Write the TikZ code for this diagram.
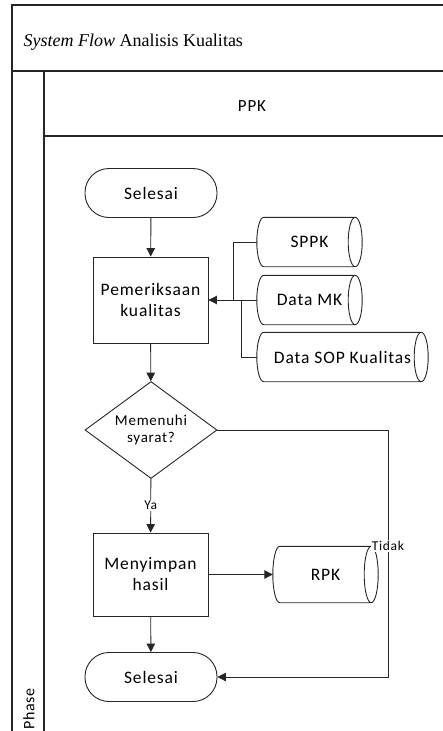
\documentclass[tikz,border=0pt]{standalone}
\usepackage{fontspec}
\setmainfont{Carlito}[LetterSpace=5]
\newfontfamily\titlefont{Liberation Serif}
\usetikzlibrary{shapes.geometric,arrows.meta,calc}

\tikzset{
  flow/.style={draw=black!85, line width=0.9pt},
  arrow/.style={flow, -{Triangle[length=8.5pt,width=8.5pt]}},
  proses/.style={flow, rectangle, minimum width=115pt, align=center, font=\fontsize{17.5}{21}\selectfont},
  terminal/.style={flow, rectangle, rounded corners=24pt, minimum width=132pt, minimum height=49pt, font=\fontsize{17.5}{21}\selectfont},
  keputusan/.style={flow, diamond, aspect=1.36, inner sep=0pt, minimum width=132pt, minimum height=97pt, align=center, font=\fontsize{15}{17.5}\selectfont},
  simpanan/.style={minimum height=49pt, inner sep=0pt, font=\fontsize{17.5}{21}\selectfont},
  lbl/.style={fill=white, inner sep=1pt, font=\fontsize{13.5}{16}\selectfont},
  bingkai/.style={draw=black!85, line width=1.2pt},
}

% bentuk penyimpanan (drum mendatar)
\newcommand{\tabung}[1]{%
  \draw[flow] let \p1=(#1.north), \p2=(#1.south), \n1={0.5*(\y1-\y2)} in
    (#1.north east) -- (#1.north west)
    arc[start angle=90, end angle=270, x radius=7pt, y radius=\n1]
    -- (#1.south east)
    (#1.east) ellipse [x radius=7pt, y radius=\n1];
}

\begin{document}
\begin{tikzpicture}[x=1pt,y=-1pt]
\useasboundingbox (0,0) rectangle (443,731);
% bingkai swimlane
\draw[bingkai] (443,5) -- (12,5) -- (12,731);
\draw[bingkai] (12,71) -- (443,71);
\draw[bingkai] (44,71) -- (44,731);
\draw[bingkai] (44,136) -- (443,136);
\node[anchor=west, font={\titlefont\fontsize{18}{22}\selectfont}] (judul) at (20,42) {\textit{System Flow} Analisis Kualitas};
\node[font=\fontsize{17}{20}\selectfont] (ppk) at (252,106) {PPK};
\node[rotate=90, font=\fontsize{16}{19}\selectfont] (phase) at (29,709) {Phase};

% proses
\node[terminal] (mulai) at (151,193) {Selesai};
\node[proses, minimum height=86pt] (periksa) at (150.5,300) {Pemeriksaan\\kualitas};
\node[keputusan] (syarat) at (151,430) {Memenuhi\\syarat?};
\node[proses, minimum height=83pt] (simpan) at (150.5,574.5) {Menyimpan\\hasil};
\node[terminal] (selesai) at (151,677) {Selesai};

% data
\node[simpanan, minimum width=91pt] (sppk) at (309.5,242) {SPPK};
\node[simpanan, minimum width=91pt] (datamk) at (309.5,300) {Data MK};
\node[simpanan, minimum width=157pt] (sop) at (342.5,357) {Data SOP Kualitas};
\node[simpanan, minimum width=91pt, minimum height=56pt] (rpk) at (325.5,574.5) {RPK};
\tabung{sppk}
\tabung{datamk}
\tabung{sop}
\tabung{rpk}

% alur
\coordinate (simpulA) at (233,0);
\coordinate (simpulB) at (241,0);
\coordinate (jalur) at (388,0);
\draw[arrow] (mulai) -- (periksa);
\draw[arrow] (periksa) -- (syarat);
\draw[arrow] (syarat) -- node[lbl] {Ya} (simpan);
\draw[arrow] (simpan.east) -- ([xshift=-7pt]rpk.west);
\draw[arrow] (simpan) -- (selesai);
\draw[arrow] (syarat.east) -- (syarat.east -| jalur) -- node[lbl, pos=0.47] {Tidak} (jalur |- selesai.east) -- (selesai.east);
\draw[flow] ([xshift=-7pt]sppk.west) -| (simpulA |- periksa.east);
\draw[flow] ([xshift=-7pt]sop.west) -| (simpulB |- periksa.east);
\draw[arrow] ([xshift=-7pt]datamk.west) -- (periksa.east);
\end{tikzpicture}
\end{document}
